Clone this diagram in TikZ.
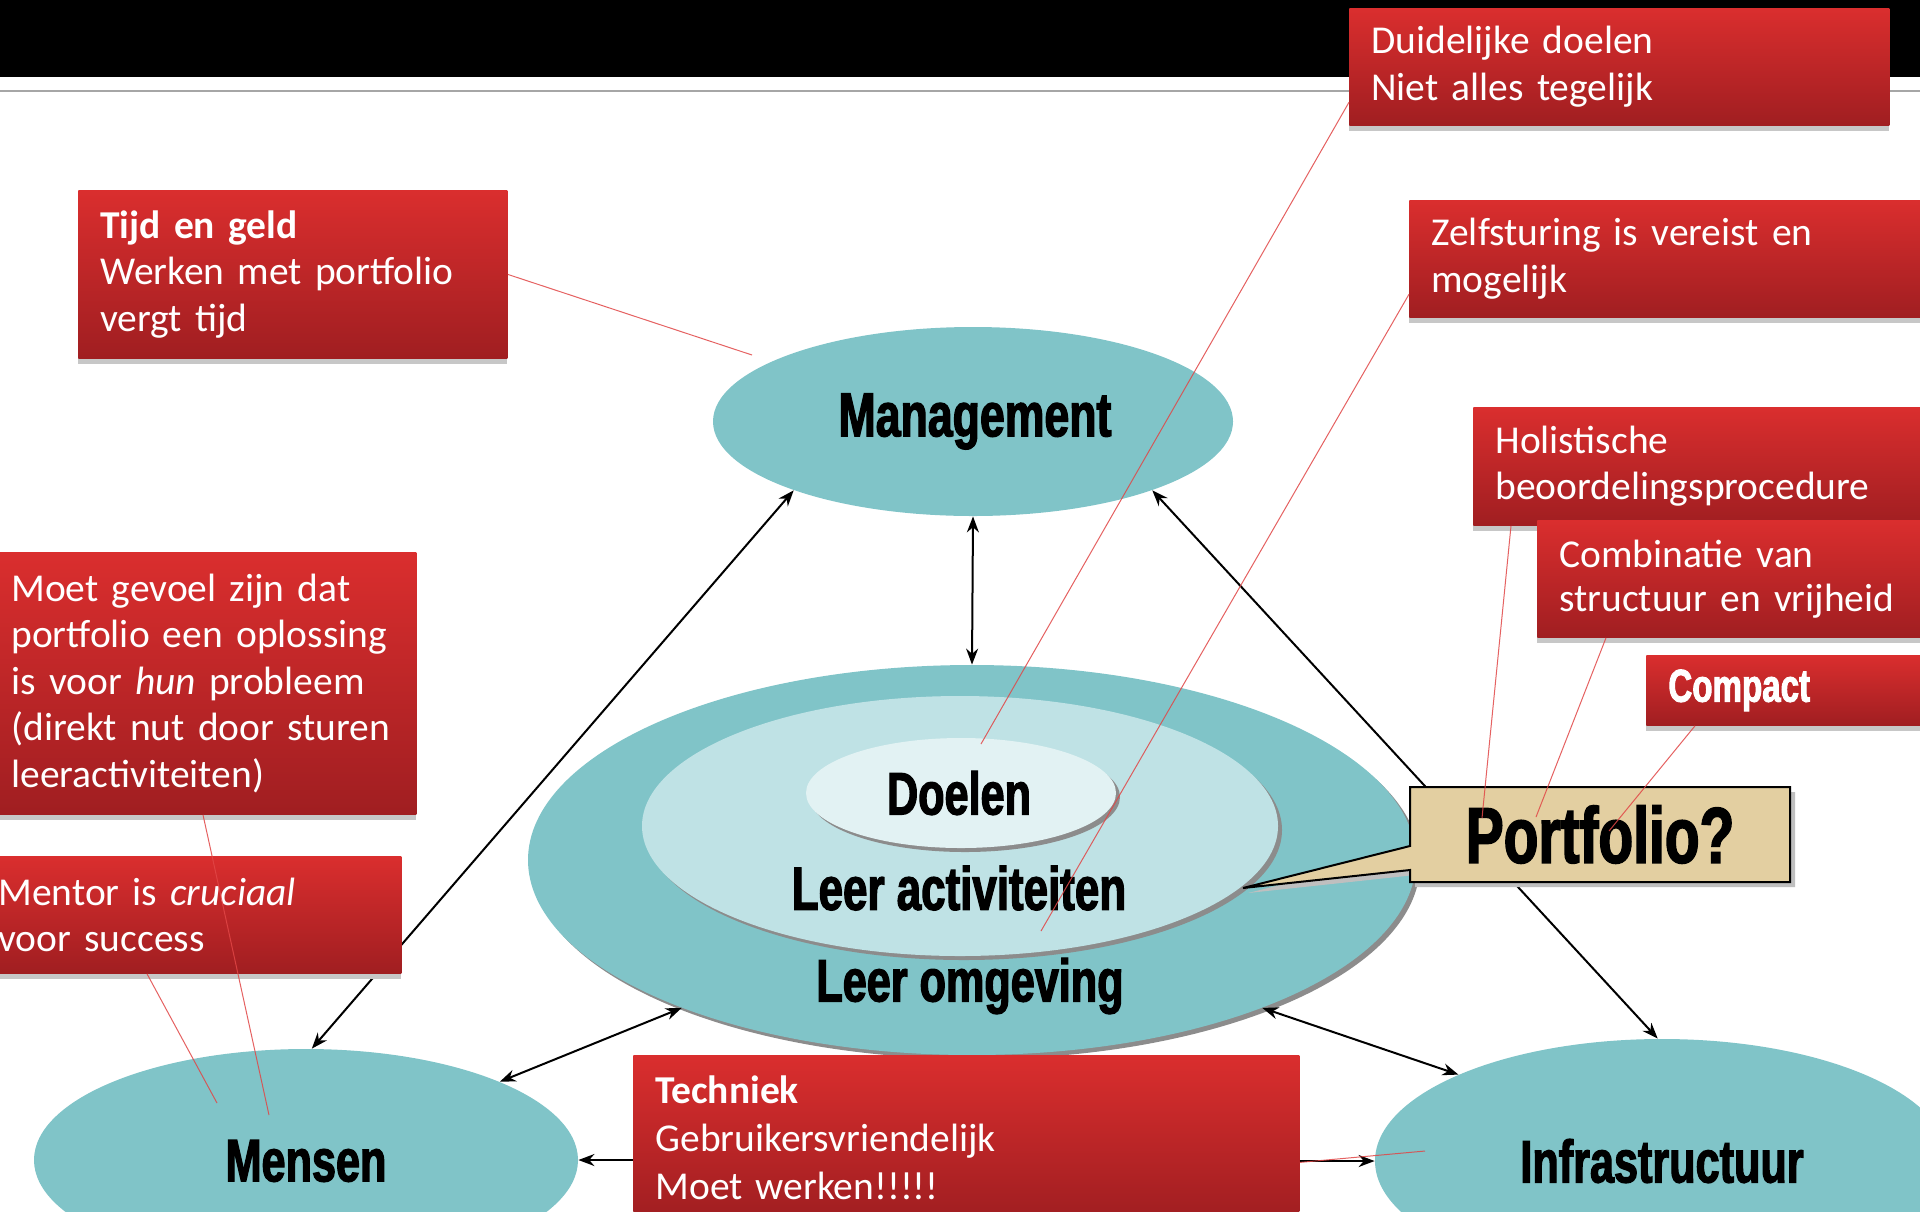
\documentclass[tikz,border=0pt]{standalone}
\usepackage{fontspec}
\setmainfont{Carlito}
\newfontfamily\impactfont{Liberation Sans}[FakeStretch=0.72,FakeBold=2]
\usetikzlibrary{shapes.geometric,shapes.callouts,shadows,arrows.meta,calc}
\definecolor{tealA}{RGB}{128,196,200}
\definecolor{tealB}{RGB}{191,226,229}
\definecolor{tealC}{RGB}{226,242,243}
\definecolor{boxtop}{RGB}{218,46,46}
\definecolor{boxbot}{RGB}{160,30,33}
\definecolor{tanbox}{RGB}{227,207,161}
\definecolor{redln}{RGB}{225,70,70}
\newcommand\boxfont[1]{\fontsize{19.75pt}{#1}\selectfont\fontdimen2\font=3.2pt\relax}
\newcommand\boxbold[1]{{\bfseries\fontdimen2\font=3.2pt\relax #1}}
\tikzset{
  redbox/.style={rectangle, anchor=north west, top color=boxtop, bottom color=boxbot,
    text=white, align=left, inner xsep=11pt, inner ysep=0pt,
    font=\boxfont{23.25pt},
    copy shadow={shadow xshift=0pt, shadow yshift=-3pt, fill=black!22, draw=none}},
  oval/.style={ellipse, inner sep=0pt, fill=tealA},
  ovalshadow/.style={copy shadow={shadow xshift=2pt, shadow yshift=-2pt, fill=black!45, draw=none}},
  imp/.style={font=\impactfont\bfseries\fontsize{#1}{#1}\selectfont, inner sep=0pt},
  arr/.style={{Stealth[length=8pt,width=6pt]}-{Stealth[length=8pt,width=6pt]}, line width=1pt},
  arrone/.style={-{Stealth[length=8pt,width=6pt]}, line width=1pt},
  redline/.style={draw=redln, line width=0.5pt, opacity=0.85},
}
\begin{document}
\begin{tikzpicture}[x=0.5pt, y=-0.5pt]
\useasboundingbox (0,0) rectangle (1920,1211);
\clip (0,0) rectangle (1920,1211);
\fill[white] (0,0) rectangle (1920,1211);
% header band
\fill[black] (0,0) rectangle (1920,77);
\draw[black!35, line width=1pt] (0,91) -- (1920,91);

% ellipses
\node[oval, minimum width=260pt, minimum height=94.5pt] (mgmt) at (973,421.5) {};
\node[imp=31pt] (mgmtt) at (975,421.5) {Management};
\node[oval, ovalshadow, minimum width=444pt, minimum height=195pt] (omg) at (972,860) {};
\node[oval, ovalshadow, fill=tealB, minimum width=318pt, minimum height=130pt] (act) at (960,826) {};
\node[oval, ovalshadow, fill=tealC, minimum width=155pt, minimum height=55pt] (doel) at (961,793) {};
\node[imp=30pt] (doelt) at (959,793) {Doelen};
\node[imp=30.5pt] (actt) at (959,888) {Leer activiteiten};
\node[imp=30pt] (omgt) at (970,986) {Leer omgeving};
\node[oval, minimum width=272pt, minimum height=111pt] (mens) at (306,1160) {};
\node[imp=30pt] (menst) at (306,1161) {Mensen};
\node[oval, minimum width=287pt, minimum height=122pt] (infra) at (1662,1161) {};
\node[imp=30pt] (infrat) at (1662,1161) {Infrastructuur};

% black connectors
\draw[arr] (mgmt.south) -- (omg.north);
\draw[arr] (mgmt.201) -- (mens.87);
\draw[arr] (mgmt.339) -- (infra.92);
\draw[arr] (mens.22) -- (omg.207);
\draw[arr] (omg.333) -- (infra.157);

% red boxes
\node[redbox, text width=192.5pt, minimum height=84pt] (tijd) at (78,190)
  {\boxbold{Tijd en geld}\\Werken met portfolio\\vergt tijd};
\node[redbox, text width=248pt, minimum height=58.5pt] (duid) at (1349,8)
  {Duidelijke doelen\\Niet alles tegelijk};
\node[redbox, text width=248pt, minimum height=58.5pt] (zelf) at (1409,200)
  {Zelfsturing is vereist en\\mogelijk};
\node[redbox, text width=218pt, minimum height=59pt] (holi) at (1473,407)
  {Holistische\\beoordelingsprocedure};
\node[redbox, text width=188pt, minimum height=58.5pt, font=\boxfont{22pt}] (comb) at (1537,520)
  {Combinatie van\\structuur en vrijheid};
\node[redbox, text width=133pt, minimum height=35pt, font=\impactfont\bfseries\fontsize{23pt}{23pt}\selectfont] (comp) at (1646,655)
  {Compact};
\node[redbox, text width=191.5pt, minimum height=131pt] (moet) at (-11,552)
  {Moet gevoel zijn dat\\portfolio een oplossing\\is voor \emph{hun} probleem\\(direkt nut door sturen\\leeractiviteiten)};
\node[redbox, text width=190.5pt, minimum height=58.5pt] (mentor) at (-24,856)
  {Mentor is \emph{cruciaal}\\voor success};
\node[redbox, text width=311pt, minimum height=82pt, font=\boxfont{24pt}] (tech) at (633,1055)
  {\boxbold{Techniek}\\Gebruikersvriendelijk\\Moet werken!!!!!};

\draw[arrone] (tech.west |- mens.east) -- (mens.east);
\draw[arrone] (tech.east |- infra.west) -- (infra.west);

% portfolio callout
\node[rectangle callout, draw=black, line width=1pt, fill=tanbox,
  minimum width=190pt, minimum height=47.5pt, inner sep=0pt,
  callout absolute pointer={(1243,888)}, callout pointer width=12pt,
  copy shadow={shadow xshift=2.5pt, shadow yshift=-2.5pt, fill=black!25, draw=none},
  imp=39.5pt] (port) at (1600,834.5) {Portfolio?};

% red annotation lines
\coordinate (e1) at (752,355);
\coordinate (e2) at (981,744);
\coordinate (e3) at (1041,931);
\coordinate (e4) at (1482,818);
\coordinate (e5) at (1536,817);
\coordinate (e6) at (1609,831);
\coordinate (e7) at (269,1115);
\coordinate (e8) at (217,1103);
\coordinate (e9) at (1425,1151);
\draw[redline] (tijd.east) -- (e1);
\draw[redline] ($(duid.south west)!0.2!(duid.north west)$) -- (e2);
\draw[redline] ($(zelf.south west)!0.2!(zelf.north west)$) -- (e3);
\draw[redline] ($(holi.south west)+(38,0)$) -- (e4);
\draw[redline] ($(comb.south west)+(69,0)$) -- (e5);
\draw[redline] ($(comp.south west)+(49,0)$) -- (e6);
\draw[redline] ($(moet.south west)+(214,0)$) -- (e7);
\draw[redline] ($(mentor.south west)+(171,0)$) -- (e8);
\draw[redline] ($(tech.east)+(0,25)$) -- (e9);
\end{tikzpicture}
\end{document}
